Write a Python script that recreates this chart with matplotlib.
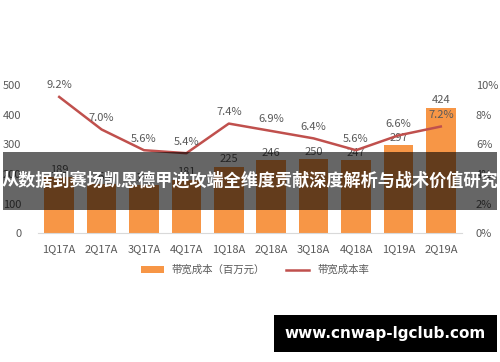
import matplotlib.pyplot as plt
from matplotlib.patches import Rectangle

plt.rcParams['font.family'] = ['Noto Sans CJK SC', 'DejaVu Sans']

quarters = ['1Q17A', '2Q17A', '3Q17A', '4Q17A', '1Q18A', '2Q18A', '3Q18A', '4Q18A', '1Q19A', '2Q19A']
cost = [189, 165, 161, 181, 225, 246, 250, 247, 297, 424]
rate = [9.2, 7.0, 5.6, 5.4, 7.4, 6.9, 6.4, 5.6, 6.6, 7.2]

orange = '#F79646'
red = '#C0504D'
grey = '#595959'

fig = plt.figure(figsize=(5, 3.62), dpi=100)
ax = fig.add_axes([0.076, 0.356, 0.848, 0.409])
x = range(len(quarters))
bars = ax.bar(x, cost, width=0.7, color=orange, label='带宽成本（百万元）', zorder=2)
for i, v in enumerate(cost):
    ax.text(i, v + 8, str(v), ha='center', va='bottom', fontsize=8, color=grey)
ax.set_ylim(0, 500)
ax.set_xlim(-0.5, len(quarters) - 0.5)
ax.set_yticks(range(0, 501, 100))
ax.set_xticks(list(x))
ax.set_xticklabels(quarters)
for s in ['top', 'right', 'left']:
    ax.spines[s].set_visible(False)
ax.spines['bottom'].set_color('#D9D9D9')
ax.tick_params(axis='both', length=0, labelsize=8, colors=grey)
ax.tick_params(axis='x', pad=8)
ax.tick_params(axis='y', pad=12)

ax2 = ax.twinx()
line, = ax2.plot(list(x), rate, color=red, lw=1.8, label='带宽成本率', zorder=3)
for i, v in enumerate(rate):
    ax2.text(i, v + 0.45, f'{v:.1f}%', ha='center', va='bottom', fontsize=8, color=grey)
ax2.set_ylim(0, 10)
ax2.set_yticks(range(0, 11, 2))
ax2.set_yticklabels([f'{t}%' for t in range(0, 11, 2)])
for s in ['top', 'right', 'left', 'bottom']:
    ax2.spines[s].set_visible(False)
ax2.tick_params(axis='y', length=0, labelsize=8, colors=grey, pad=10)

fig.legend(handles=[bars, line], loc='center', bbox_to_anchor=(0.51, 0.254), ncol=2,
           frameon=False, fontsize=7.5, labelcolor=grey, handlelength=2.2, columnspacing=2.0)

# banner over the chart
fig.add_artist(Rectangle((0.006, 0.42), 0.988, 0.16, transform=fig.transFigure,
                         facecolor='black', alpha=0.6, edgecolor='none', zorder=10))
fig.text(0.5, 0.50, '从数据到赛场凯恩德甲进攻端全维度贡献深度解析与战术价值研究', ha='center', va='center',
         fontsize=12.3, fontweight='bold', color='white', zorder=11)

# watermark
fig.add_artist(Rectangle((0.548, 0.028), 0.446, 0.102, transform=fig.transFigure,
                         facecolor='black', edgecolor='none', zorder=10))
fig.text(0.771, 0.079, 'www.cnwap-lgclub.com', ha='center', va='center',
         fontsize=11, fontweight='bold', color='white', family='DejaVu Sans', zorder=11)

fig.savefig('out.png', dpi=100)
